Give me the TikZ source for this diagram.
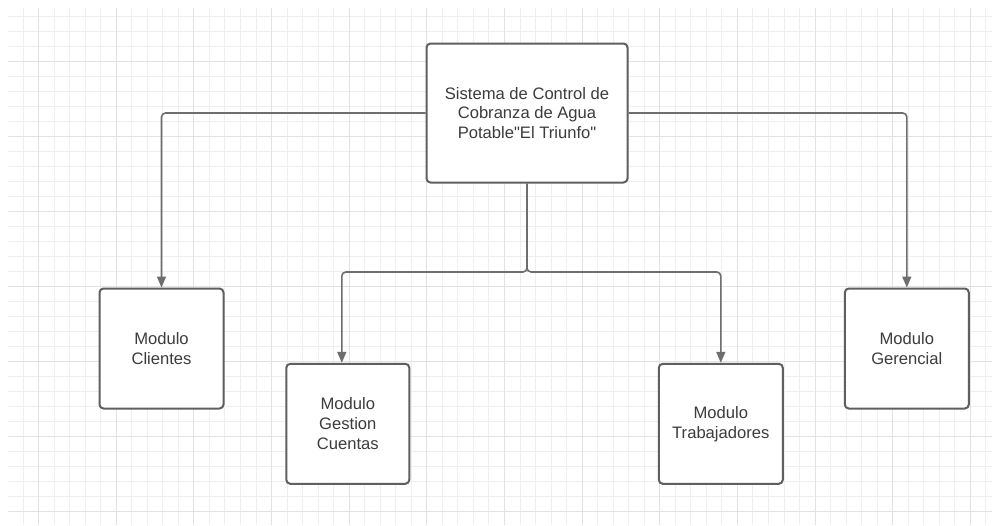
\documentclass[tikz,border=0pt]{standalone}
\usepackage{fontspec}
\newfontfamily\lsans{Liberation Sans}
\usetikzlibrary{arrows.meta}
\definecolor{boxgray}{HTML}{5F5F5F}
\definecolor{linegray}{HTML}{6E6E6E}
\definecolor{textgray}{HTML}{3C3C3C}
\definecolor{gridminor}{HTML}{EEEEEE}
\definecolor{gridmajor}{HTML}{E2E2E2}
\begin{document}
\begin{tikzpicture}[x=1pt,y=-1pt,
  box/.style={draw=boxgray, line width=2pt, rounded corners=4pt, fill=white,
    align=center, text=textgray, font=\lsans\fontsize{16.6}{19.8}\selectfont, inner sep=2pt},
  conn/.style={draw=linegray, line width=1.6pt, rounded corners=4pt,
    -{Triangle[length=11pt,width=9pt]}},
  gminor/.style={draw=gridminor, line width=0.9pt},
  gmajor/.style={draw=gridmajor, line width=1pt}]
\useasboundingbox (0,0) rectangle (992,525);
\fill[white] (0,0) rectangle (992,525);
% grid
\foreach \i in {0,...,62} {
  \pgfmathsetmacro\xx{23+15.53*\i}
  \draw[gminor] (\xx,8) -- (\xx,525);
}
\foreach \j in {0,...,33} {
  \pgfmathsetmacro\yy{16.7+15*\j}
  \draw[gminor] (8,\yy) -- (992,\yy);
}
\foreach \i in {1,6,...,61} {
  \pgfmathsetmacro\xx{23+15.53*\i}
  \draw[gmajor] (\xx,8) -- (\xx,525);
}
\foreach \j in {3,8,...,33} {
  \pgfmathsetmacro\yy{16.7+15*\j}
  \draw[gmajor] (8,\yy) -- (992,\yy);
}
% nodes
\node[box, minimum width=201pt, minimum height=139pt] (top) at (527,113)
  {Sistema de Control de\\Cobranza de Agua\\Potable"El Triunfo"};
\node[box, minimum width=124pt, minimum height=120pt] (cli) at (161.5,348.5)
  {Modulo\\Clientes};
\node[box, minimum width=123pt, minimum height=120pt] (ges) at (347.8,423.8)
  {Modulo\\Gestion\\Cuentas};
\node[box, minimum width=124pt, minimum height=120pt] (tra) at (720.8,423.8)
  {Modulo\\Trabajadores};
\node[box, minimum width=124pt, minimum height=120pt] (ger) at (906.8,348.5)
  {Modulo\\Gerencial};
\coordinate (j) at (527,272);
% connectors
\draw[conn] (top.west) -| (cli.north);
\draw[conn] (top.east) -| (ger.north);
\draw[conn] (top.south) -- (j) -| ([xshift=-6pt]ges.north);
\draw[conn] (top.south) -- (j) -| (tra.north);
\end{tikzpicture}
\end{document}
